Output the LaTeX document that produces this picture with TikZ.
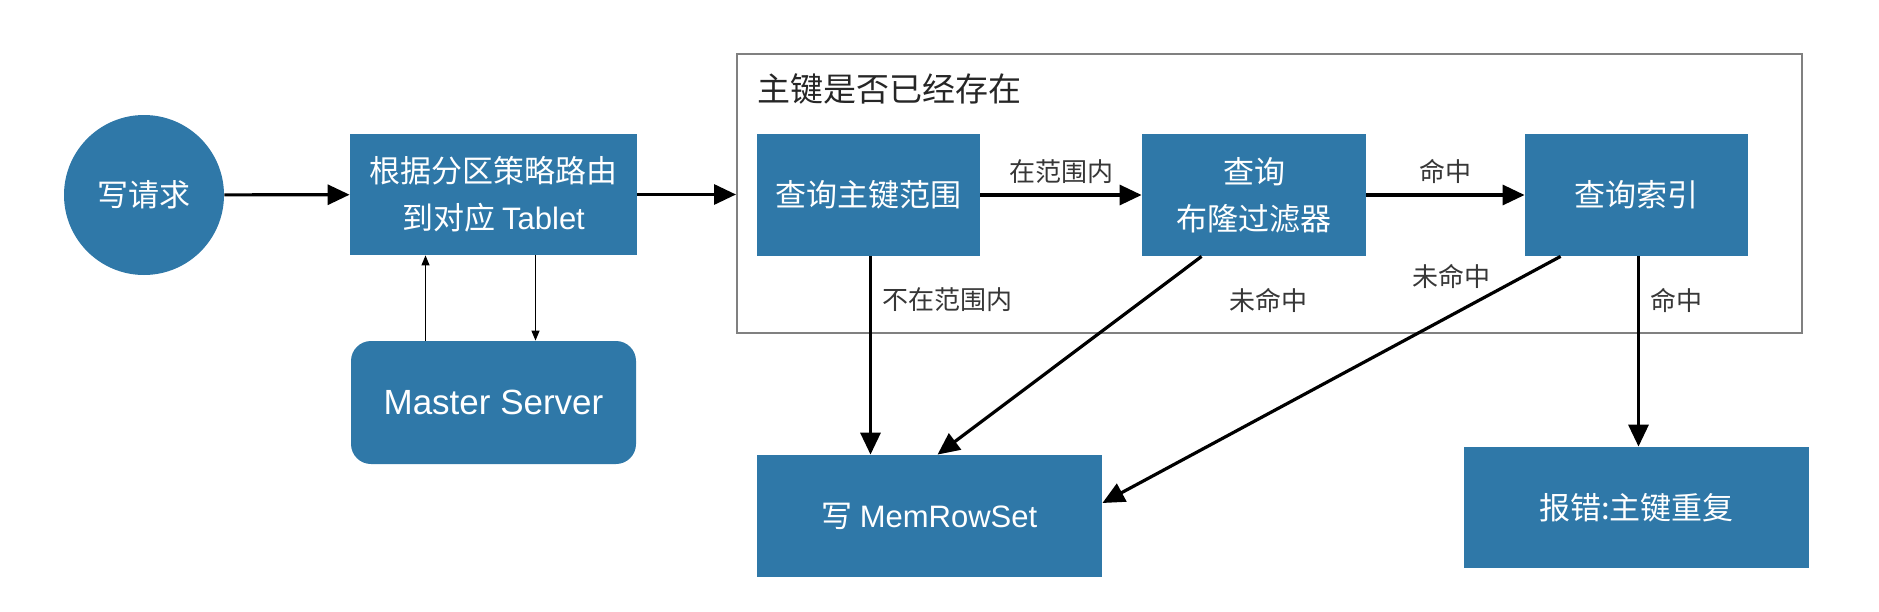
\documentclass[tikz,border=0pt]{standalone}
\usepackage{fontspec}
\setmainfont{Noto Sans CJK SC}
\newfontfamily\latf{Liberation Sans}
\usetikzlibrary{arrows.meta,positioning}
\definecolor{kblue}{RGB}{47,120,168}
\definecolor{ktext}{RGB}{55,55,55}

\begin{document}
\begin{tikzpicture}[x=0.5pt,y=-0.5pt,>={Triangle[length=11pt,width=10pt]},
	box/.style={fill=kblue,text=white,font=\fontsize{15.5}{23.5}\selectfont,align=center,inner sep=0pt},
	lbl/.style={text=ktext,font=\fontsize{13}{16}\selectfont,inner sep=2pt},
	flow/.style={->,line width=1.6pt},
	slim/.style={-{Triangle[length=5pt,width=4pt]},line width=0.6pt}]
	\useasboundingbox (0,0) rectangle (1879,611);
	\node [box,circle,minimum size=80pt] (req) at (144,195) {写请求};
	\node [box,minimum width=143.5pt,minimum height=60.5pt] (route) at (493.5,194.5) {根据分区策略路由\\到对应 {\latf Tablet}};
	\node [box,rounded corners=10pt,minimum width=142.5pt,minimum height=61.5pt,font=\fontsize{17.5}{20}\latf] (master) at (493.5,402.5) {Master Server};
	\node [draw=gray,line width=1pt,minimum width=532.5pt,minimum height=139.5pt] (chk) at (1269.5,193.5) {};
	\node [anchor=west,text=black!85,font=\fontsize{16.5}{20}\selectfont] (chklbl) at ([xshift=7pt,yshift=-18pt]chk.north west) {主键是否已经存在};
	\node [box,minimum width=111.5pt,minimum height=61pt] (range) at (868.5,195) {查询主键范围};
	\node [box,minimum width=112pt,minimum height=61pt] (bloom) at (1254,195) {查询\\布隆过滤器};
	\node [box,minimum width=111.5pt,minimum height=61pt] (index) at (1636.5,195) {查询索引};
	\node [box,minimum width=172.5pt,minimum height=61pt] (memrow) at (929.5,516) {写 {\latf MemRowSet}};
	\node [box,minimum width=172.5pt,minimum height=60.5pt] (dup) at (1636.5,507.5) {报错:主键重复};

	\draw [flow] (req) -- (route);
	\draw [flow] (route.east) -- (route.east -| chk.west);
	\draw [slim] ([xshift=-34pt]master.north) -- ([xshift=-34pt]route.south);
	\draw [slim] ([xshift=21pt]route.south) -- ([xshift=21pt]master.north);
	\draw [flow] (range) -- node [lbl,above,yshift=3pt] {在范围内} (bloom);
	\draw [flow] (bloom) -- node [lbl,above,yshift=3pt] {命中} (index);
	\draw [flow] ([xshift=1pt]range.south) -- node [lbl,pos=0.22,right,xshift=3pt] {不在范围内} ([xshift=1pt]range.south |- memrow.north);
	\draw [flow] ([xshift=30pt]bloom.south west) -- node [lbl,pos=0.22,anchor=west,xshift=40pt] {未命中} ([xshift=4pt]memrow.north);
	\draw [flow] ([xshift=18pt]index.south west) -- node [lbl,pos=0.08,anchor=east,xshift=-14pt] {未命中} ([yshift=6.5pt]memrow.east);
	\draw [flow] ([xshift=1pt]index.south) -- node [lbl,pos=0.23,right,xshift=3pt] {命中} ([xshift=1pt]index.south |- dup.north);
\end{tikzpicture}
\end{document}
